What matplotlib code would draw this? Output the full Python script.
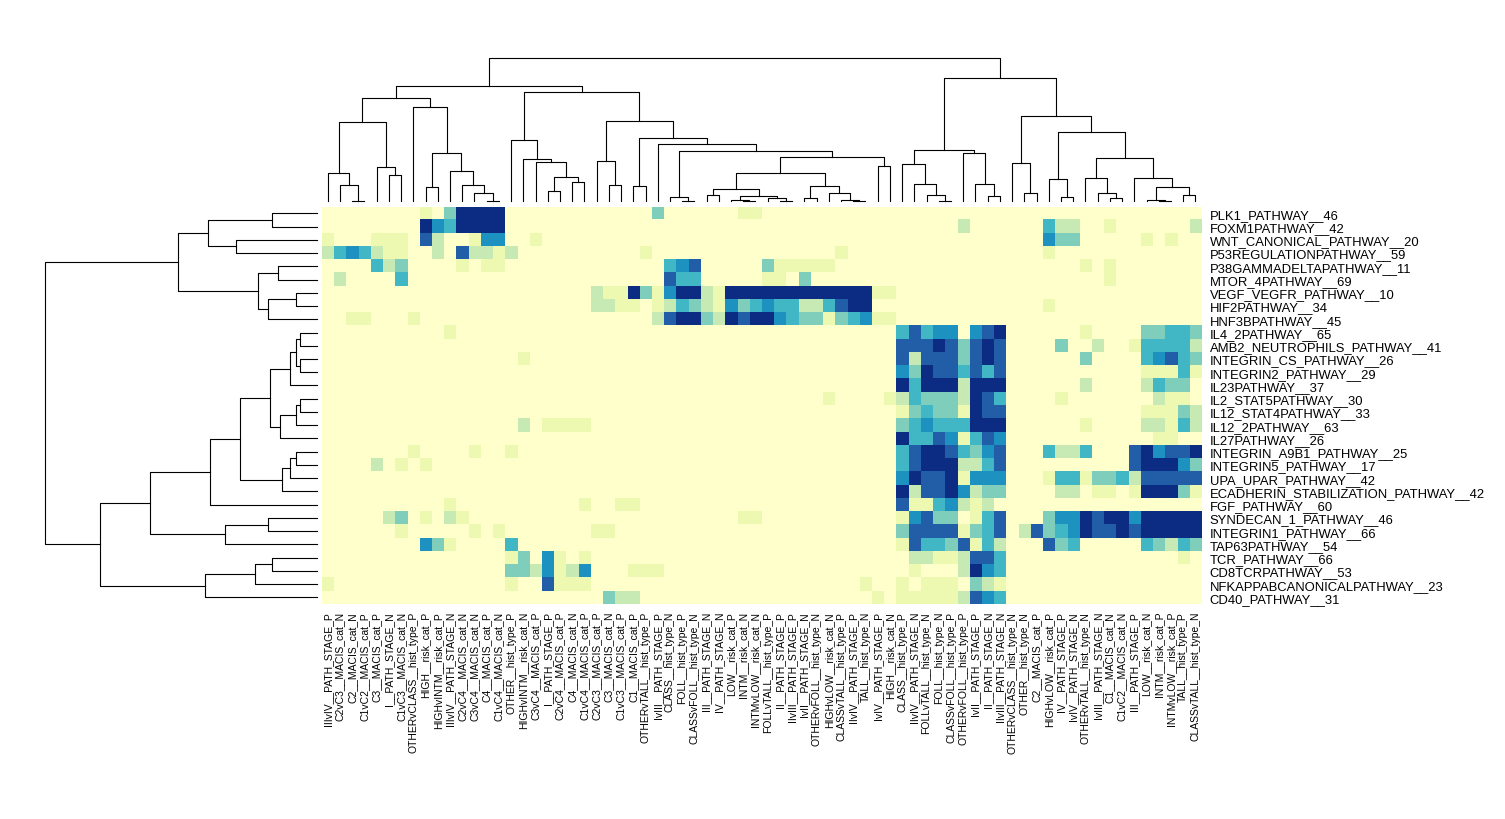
import numpy as np
import matplotlib.pyplot as plt
from matplotlib.colors import ListedColormap, BoundaryNorm

plt.rcParams['font.family'] = ['Liberation Sans', 'DejaVu Sans']

# rows (top to bottom) and columns (left to right) as ordered by the clustering
row_labels = [
    "PLK1_PATHWAY__46", "FOXM1PATHWAY__42", "WNT_CANONICAL_PATHWAY__20",
    "P53REGULATIONPATHWAY__59", "P38GAMMADELTAPATHWAY__11", "MTOR_4PATHWAY__69",
    "VEGF_VEGFR_PATHWAY__10", "HIF2PATHWAY__34", "HNF3BPATHWAY__45",
    "IL4_2PATHWAY__65", "AMB2_NEUTROPHILS_PATHWAY__41", "INTEGRIN_CS_PATHWAY__26",
    "INTEGRIN2_PATHWAY__29", "IL23PATHWAY__37", "IL2_STAT5PATHWAY__30",
    "IL12_STAT4PATHWAY__33", "IL12_2PATHWAY__63", "IL27PATHWAY__26",
    "INTEGRIN_A9B1_PATHWAY__25", "INTEGRIN5_PATHWAY__17", "UPA_UPAR_PATHWAY__42",
    "ECADHERIN_STABILIZATION_PATHWAY__42", "FGF_PATHWAY__60", "SYNDECAN_1_PATHWAY__46",
    "INTEGRIN1_PATHWAY__66", "TAP63PATHWAY__54", "TCR_PATHWAY__66",
    "CD8TCRPATHWAY__53", "NFKAPPABCANONICALPATHWAY__23", "CD40_PATHWAY__31",
]

col_labels = [
    "IIIvIV__PATH_STAGE_P", "C2vC3__MACIS_cat_N", "C2__MACIS_cat_N", "C1vC2__MACIS_cat_P",
    "C3__MACIS_cat_P", "I__PATH_STAGE_N", "C1vC3__MACIS_cat_N", "OTHERvCLASS__hist_type_P",
    "HIGH__risk_cat_P", "HIGHvINTM__risk_cat_P", "IIIvIV__PATH_STAGE_N", "C2vC4__MACIS_cat_N",
    "C3vC4__MACIS_cat_N", "C4__MACIS_cat_P", "C1vC4__MACIS_cat_N", "OTHER__hist_type_P",
    "HIGHvINTM__risk_cat_N", "C3vC4__MACIS_cat_P", "I__PATH_STAGE_P", "C2vC4__MACIS_cat_P",
    "C4__MACIS_cat_N", "C1vC4__MACIS_cat_P", "C2vC3__MACIS_cat_P", "C3__MACIS_cat_N",
    "C1vC3__MACIS_cat_P", "C1__MACIS_cat_P", "OTHERvTALL__hist_type_P", "IvIII__PATH_STAGE_P",
    "CLASS__hist_type_N", "FOLL__hist_type_P", "CLASSvFOLL__hist_type_N", "III__PATH_STAGE_N",
    "IV__PATH_STAGE_N", "LOW__risk_cat_P", "INTM__risk_cat_N", "INTMvLOW__risk_cat_N",
    "FOLLvTALL__hist_type_P", "II__PATH_STAGE_P", "IIvIII__PATH_STAGE_P", "IvII__PATH_STAGE_N",
    "OTHERvFOLL__hist_type_N", "HIGHvLOW__risk_cat_N", "CLASSvTALL__hist_type_P", "IIvIV__PATH_STAGE_P",
    "TALL__hist_type_N", "IvIV__PATH_STAGE_P", "HIGH__risk_cat_N", "CLASS__hist_type_P",
    "IIvIV__PATH_STAGE_N", "FOLLvTALL__hist_type_N", "FOLL__hist_type_N", "CLASSvFOLL__hist_type_P",
    "OTHERvFOLL__hist_type_P", "IvII__PATH_STAGE_P", "II__PATH_STAGE_N", "IIvIII__PATH_STAGE_N",
    "OTHERvCLASS__hist_type_N", "OTHER__hist_type_N", "C2__MACIS_cat_P", "HIGHvLOW__risk_cat_P",
    "IV__PATH_STAGE_P", "IvIV__PATH_STAGE_N", "OTHERvTALL__hist_type_N", "IvIII__PATH_STAGE_N",
    "C1__MACIS_cat_N", "C1vC2__MACIS_cat_N", "III__PATH_STAGE_P", "LOW__risk_cat_N",
    "INTM__risk_cat_P", "INTMvLOW__risk_cat_P", "TALL__hist_type_P", "CLASSvTALL__hist_type_N",
]

# binned enrichment level per cell (0 = none ... 7 = strongest), 12 columns per block
heat_rows = [
    "000000001037 777000000000 000300000011 000000000000 000000000000 000000000000",
    "000000007547 777000000000 000000000000 000000000000 000020000004 220010000002",
    "100011106200 155001000000 000000000000 000000000000 000000000005 330000010100",
    "245421100206 221200000000 001000000000 000000100000 000000000001 000000000000",
    "000042300001 011000000000 000045600000 311111000000 000000000000 001010000000",
    "020000400000 000000000000 000064400000 110300000000 000000000000 000010000000",
    "000000000000 000000000021 173157721777 777777777110 000000000000 000000000000",
    "000000000000 000000000022 110124321534 544224677000 000000000001 000000000000",
    "001100010000 000000000000 000267732767 754331345110 000000000000 000000000000",
    "000000000010 000000000000 000000000000 000000000004 645505670000 001000033443",
    "000000000000 000000000000 000000000000 000000000006 667636760000 300200144442",
    "000000000000 000010000000 000000000000 000000000006 266636760000 003000045643",
    "000000000000 000000000000 000000000000 000000000005 376646460000 000000011141",
    "000000000000 000000000000 000000000000 000000000007 477727770000 002000024330",
    "000000000000 000000000000 000000000000 000001000012 433327640000 100000002110",
    "000000000000 000000000000 000000000000 000000000001 343317660000 000000011132",
    "000000000000 000020111100 000000000000 000000000003 454447770000 001000022142",
    "000000000000 000000000000 000000000000 000000000007 446514650000 000000001100",
    "000000010000 100100000000 000000000000 000000000004 677643560004 224000675667",
    "000020101000 000000000000 000000000000 000000000004 677722460000 000000677753",
    "000000000000 000000000000 000000000000 000000000005 766715550001 441334266666",
    "000000000000 000000000000 000000000000 000000000007 266752330000 220110177731",
    "000000000010 000000000100 110000000000 000000000006 114521200000 000000000000",
    "000002301021 000000000000 000000000011 000000000001 563301460003 557677577777",
    "000000100000 101000000011 000000000000 000000000003 666613460263 457667677777",
    "000000005310 000400000000 000000000000 000000000001 644361420006 340000043243",
    "000000000000 000130510100 000000000000 000000000000 221126640000 000000000010",
    "000000000000 000332512500 011100000000 000000000000 100027540000 000000000000",
    "100000000000 000100611100 000000000000 000000001001 011103210000 000000000000",
    "000000000000 000000000003 220000000000 000000000101 111126540000 000000000000",
]

level_colors = ['#FFFFCC', '#EDF8B1', '#C7E9B4', '#7FCDBB',
                '#41B6C4', '#1D91C0', '#225EA8', '#0C2C84']

# dendrograms: node -> (left child, right child, merge height); ints are leaf positions
col_tree = {
    'a1': (2, 3, 0.7), 'a2': (1, 'a1', 16.3), 'a3': (0, 'a2', 28.3),
    'b1': (5, 6, 26), 'b2': (4, 'b1', 34), 'c': ('a3', 'b2', 79.3),
    'd1': (13, 14, 0.7), 'd2': (12, 'd1', 8), 'd3': (11, 'd2', 16.7),
    'd4': (10, 'd3', 30), 'd5': (8, 9, 14), 'd6': ('d5', 'd4', 48.7),
    'd7': (7, 'd6', 94.7), 'e': ('c', 'd7', 103.7),
    'f1': (18, 19, 10), 'f2': (20, 21, 19.3), 'f3': ('f1', 'f2', 24),
    'f4': (17, 'f3', 39), 'f5': (16, 'f4', 42.3), 'f6': (15, 'f5', 61.3),
    'g1': (23, 24, 16.3), 'g2': (22, 'g1', 40.7), 'h1': (25, 26, 15.7),
    'i1': (29, 30, 0.7), 'i2': (28, 'i1', 4.7),
    'm1': (31, 32, 6), 'm2': (34, 35, 0.7), 'm3': (33, 'm2', 1.7),
    'n1': (37, 38, 0.7), 'n2': (36, 'n1', 3), 'm4': ('m3', 'n2', 5), 'm5': ('m1', 'm4', 12.3),
    'o1': (39, 40, 3.3), 'o2': (43, 44, 0.7), 'o3': (42, 'o2', 1.3),
    'o4': (41, 'o3', 8), 'o5': ('o1', 'o4', 15.7),
    'p1': ('m5', 'o5', 28.3), 'q1': (45, 46, 35), 'p2': ('p1', 'q1', 44),
    'p3': ('i2', 'p2', 50), 'p4': (27, 'p3', 57.3), 'p5': ('h1', 'p4', 63),
    'p6': ('g2', 'p5', 80), 'p7': ('f6', 'p6', 109), 'p8': ('e', 'p7', 115),
    'r1': (50, 51, 0.7), 'r2': (49, 'r1', 6.7), 'r3': (48, 'r2', 17.7), 'r4': (47, 'r3', 37.3),
    's1': (54, 55, 5.7), 's2': (53, 's1', 17.3), 's3': (52, 's2', 48), 'r5': ('r4', 's3', 51.3),
    'u1': (57, 58, 8), 'u2': (56, 'u1', 38), 'v1': (60, 61, 4.7), 'v2': (59, 'v1', 22),
    'w1': (64, 65, 3.7), 'w2': (63, 'w1', 8), 'w3': (62, 'w2', 23),
    'x1': (68, 69, 0.7), 'x2': (67, 'x1', 1.7), 'x3': (70, 71, 6.7),
    'x4': ('x2', 'x3', 14), 'x5': (66, 'x4', 23.7),
    'w4': ('w3', 'x5', 43.3), 'v3': ('v2', 'w4', 69.3), 'u3': ('u2', 'v3', 85.7),
    't': ('r5', 'u3', 123.3), 'root': ('p8', 't', 143),
}

row_tree = {
    'a': (0, 1, 45), 'b': (2, 3, 81), 'c': ('a', 'b', 109),
    'd': (4, 5, 39), 'e': (6, 7, 21), 'f': ('e', 8, 49), 'g': ('d', 'f', 59),
    'h': ('c', 'g', 139),
    'i': (9, 10, 17), 'j': (11, 12, 17), 'k': ('i', 'j', 21), 'l': ('k', 13, 27),
    'm': (14, 15, 17), 'n': ('m', 16, 21), 'o': ('n', 17, 37), 'p': ('l', 'o', 47),
    'q': (18, 19, 21), 'r': ('q', 20, 27), 's': ('r', 21, 35), 't': ('p', 's', 77),
    'u': ('t', 22, 107),
    'v': (23, 24, 49), 'w': ('v', 25, 92), 'x': ('u', 'w', 167),
    'y': (26, 27, 45), 'z': ('y', 28, 62), 'aa': ('z', 29, 112), 'bb': ('x', 'aa', 217),
    'root': ('h', 'bb', 272),
}

values = np.array([[int(ch) for ch in r.replace(' ', '')] for r in heat_rows])


def draw_tree(ax, tree, node, vertical):
    # returns (leaf-axis position, height) of node, drawing its links on the way
    if isinstance(node, int):
        return node + 0.5, 0.0
    left, right, h = tree[node]
    p1, h1 = draw_tree(ax, tree, left, vertical)
    p2, h2 = draw_tree(ax, tree, right, vertical)
    if vertical:
        ax.plot([p1, p1, p2, p2], [h1, h, h, h2], color='black', lw=0.8, clip_on=False)
    else:
        ax.plot([h1, h, h, h2], [p1, p1, p2, p2], color='black', lw=0.8, clip_on=False)
    return (p1 + p2) / 2, h


W, H = 1505, 820
fig = plt.figure(figsize=(W / 100, H / 100), dpi=100)

hx0, hx1, hy0, hy1 = 321.7, 1201.5, 207.7, 605.0
ax = fig.add_axes([hx0 / W, 1 - hy1 / H, (hx1 - hx0) / W, (hy1 - hy0) / H])
cmap = ListedColormap(level_colors)
norm = BoundaryNorm(np.arange(-0.5, 8.5, 1), cmap.N)
ax.imshow(values, cmap=cmap, norm=norm, aspect='auto', interpolation='nearest',
          extent=(0, values.shape[1], values.shape[0], 0))
ax.set_xticks(np.arange(len(col_labels)) + 0.5)
ax.set_xticklabels(col_labels, rotation=90, fontsize=7.5)
ax.set_yticks(np.arange(len(row_labels)) + 0.5)
ax.set_yticklabels(row_labels, fontsize=9.4)
ax.yaxis.tick_right()
ax.tick_params(axis='x', length=0, pad=5)
ax.tick_params(axis='y', length=0, pad=6)
for s in ax.spines.values():
    s.set_visible(False)

# column dendrogram on top
axc = fig.add_axes([hx0 / W, 1 - 202.3 / H, (hx1 - hx0) / W, 143.0 / H])
draw_tree(axc, col_tree, 'root', True)
axc.set_xlim(0, len(col_labels))
axc.set_ylim(0, 143)
axc.axis('off')

# row dendrogram on the left
axr = fig.add_axes([45 / W, 1 - hy1 / H, 272 / W, (hy1 - hy0) / H])
draw_tree(axr, row_tree, 'root', False)
axr.set_xlim(272, 0)
axr.set_ylim(len(row_labels), 0)
axr.axis('off')

fig.savefig('out.png', dpi=100)
